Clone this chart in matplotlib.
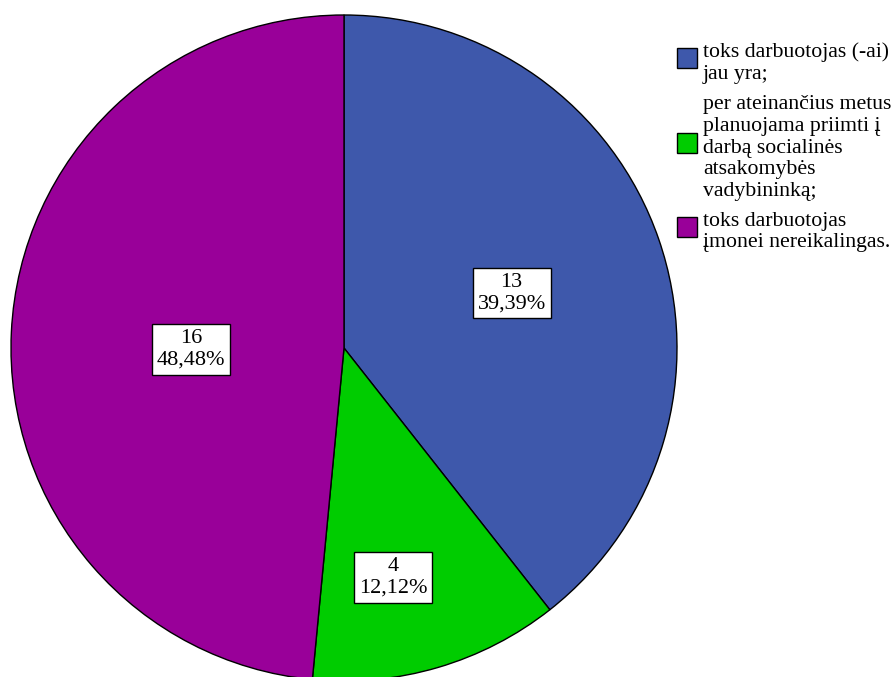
import numpy as np
import matplotlib
matplotlib.use("Agg")
import matplotlib.pyplot as plt
from matplotlib.patches import Rectangle

plt.rcParams['font.family'] = ['Liberation Serif', 'DejaVu Serif']

categories = [
    "toks darbuotojas (-ai)\njau yra;",
    "per ateinančius metus\nplanuojama priimti į\ndarbą socialinės\natsakomybės\nvadybininką;",
    "toks darbuotojas\nįmonei nereikalingas.",
]
counts = [13, 4, 16]
percent_labels = ["39,39%", "12,12%", "48,48%"]
colors = ["#3E58AB", "#00CC00", "#990099"]

# label placement inside each wedge (fraction of radius, angular shift in degrees)
label_radius = [0.53, 0.705, 0.46]
label_shift = [-0.9, -4.3, 3.3]

W, H = 895, 677
fig = plt.figure(figsize=(W / 100, H / 100), dpi=100)

cx, cy, R = 344, 348, 333
ax = fig.add_axes([(cx - R) / W, (H - cy - R) / H, 2 * R / W, 2 * R / H])
wedges, _ = ax.pie(counts, colors=colors, startangle=90, counterclock=False,
                   radius=1.0,
                   wedgeprops=dict(edgecolor="black", linewidth=1.0))
ax.set_xlim(-1, 1)
ax.set_ylim(-1, 1)
ax.set_aspect("equal")
ax.axis("off")

for w, n, p, rf, sh in zip(wedges, counts, percent_labels, label_radius, label_shift):
    mid = np.deg2rad((w.theta1 + w.theta2) / 2 + sh)
    ax.text(rf * np.cos(mid), rf * np.sin(mid), f"{n}\n{p}",
            ha="center", va="center", fontsize=16, linespacing=1.2,
            multialignment="center",
            bbox=dict(boxstyle="square,pad=0.22", facecolor="white",
                      edgecolor="black", linewidth=1.0))

# legend drawn as patches and text in figure pixels
entry_centers = [58, 143, 227]
text_centers = [63, 148, 232]
for c, tc, lab, col in zip(entry_centers, text_centers, categories, colors):
    fig.patches.append(Rectangle((677 / W, (H - c - 10) / H), 20 / W, 20 / H,
                                 transform=fig.transFigure, facecolor=col,
                                 edgecolor="black", linewidth=1.0))
    fig.text(703 / W, (H - tc) / H, lab, ha="left", va="center",
             fontsize=15.7, linespacing=1.2)

fig.savefig("out.png", dpi=100)
